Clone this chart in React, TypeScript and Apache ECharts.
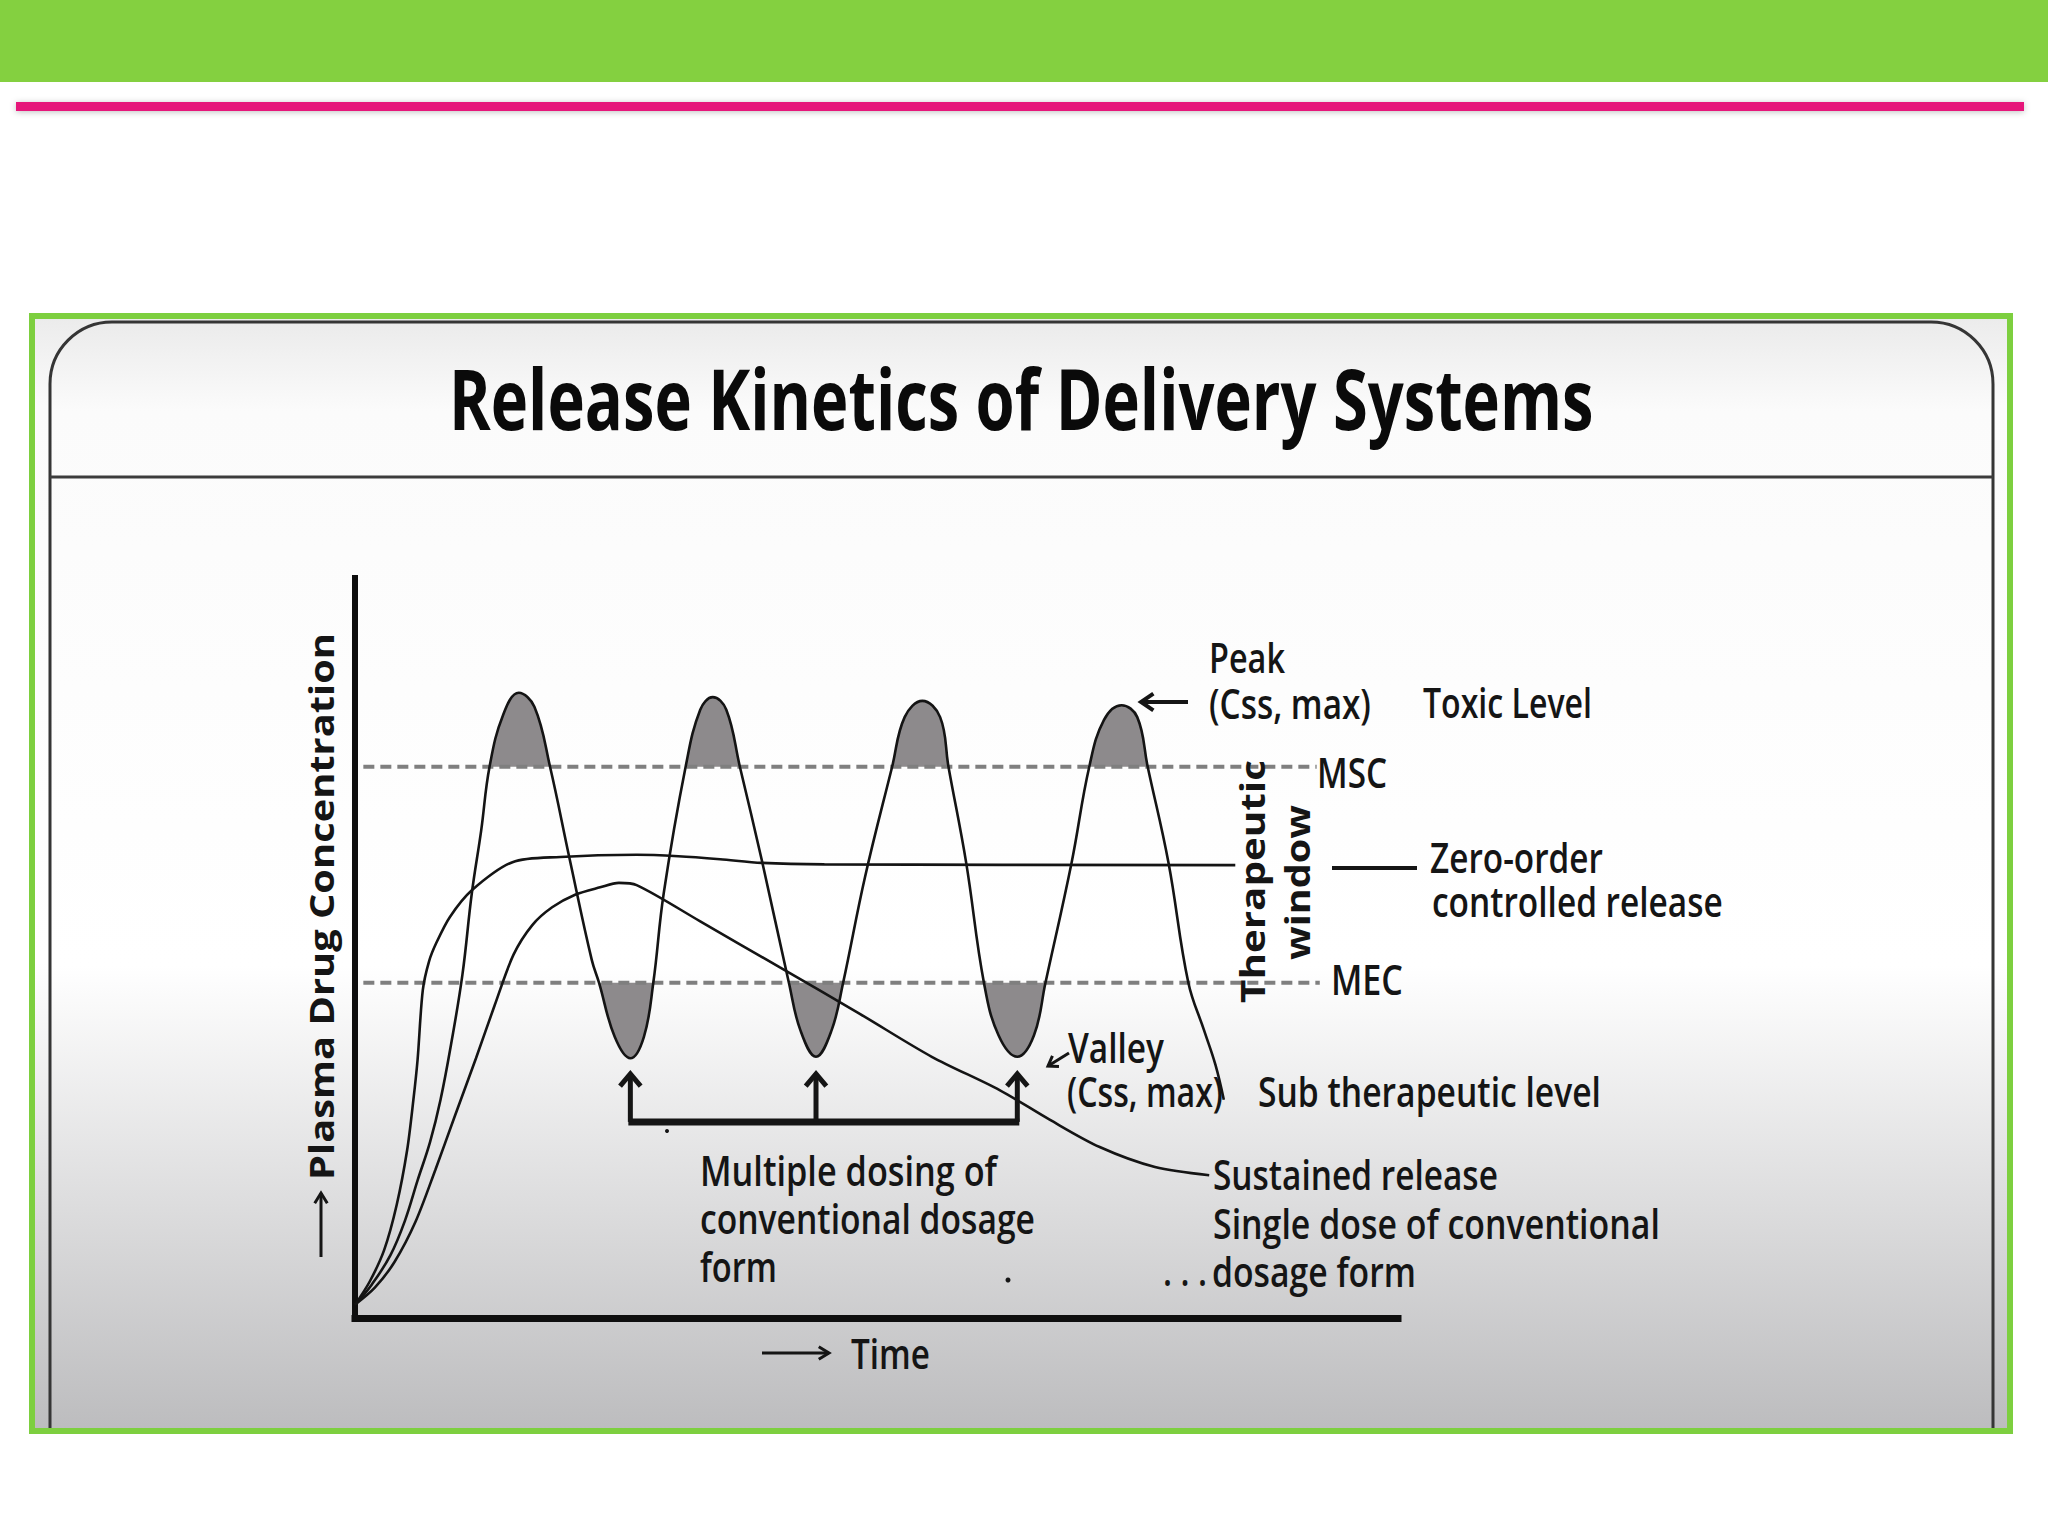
import React, { useEffect, useRef } from 'react';
import * as echarts from 'echarts';

// ---------- data (x: time units 0-100, y: concentration units 0-100) ----------
const MSC = 74.5;
const MEC = 45.3;

const zeroOrder: number[][] = [
  [0, 1.8], [1.4, 4.9], [2.8, 9.2], [4.0, 15.3], [5.0, 22.7], [5.6, 29.5], [6.0, 34.9],
  [6.5, 44.3], [7.1, 48.2], [7.8, 50.7], [9.1, 54.2], [11.2, 57.8], [15.1, 61.6],
  [19.7, 62.3], [27.0, 62.6], [31.0, 62.4], [35.0, 62.0], [39.0, 61.5], [45.0, 61.3], [84.4, 61.2],
];

const multipleDosing: number[][] = [
  [0, 1.8], [1.6, 4.5], [3.4, 8.5], [4.8, 13.2], [6.0, 18.6], [7.2, 23.8], [8.2, 29.5],
  [9.2, 36.9], [10.3, 46.4], [11.2, 57.4], [12.1, 65.9], [12.9, 74.5], [14.2, 81.5],
  [15.7, 84.5], [17.2, 82.6], [18.7, 74.5], [20.6, 61.9], [22.7, 48.4], [23.4, 45.3],
  [24.9, 38.0], [26.4, 35.1], [27.7, 38.0], [28.6, 45.3], [29.6, 57.4], [31.7, 74.5],
  [33.1, 82.2], [34.3, 83.9], [35.6, 82.2], [36.9, 74.5], [39.0, 61.9], [41.6, 45.3],
  [42.7, 38.9], [44.2, 35.3], [45.7, 38.9], [46.8, 45.3], [48.9, 59.6], [51.5, 74.5],
  [52.7, 81.2], [54.4, 83.4], [56.1, 81.2], [56.9, 74.5], [58.6, 61.5], [60.3, 45.3],
  [61.7, 38.2], [63.5, 35.3], [65.1, 38.2], [66.2, 45.3], [68.7, 61.5], [70.4, 74.5],
  [71.8, 80.8], [73.5, 82.8], [75.0, 81.2], [76.0, 74.5], [78.0, 61.5], [79.9, 45.3],
  [81.4, 38.9], [82.5, 34.2], [83.3, 29.5],
];

const singleDose: number[][] = [
  [0, 1.8], [1.9, 4.1], [3.8, 7.6], [5.8, 13.0], [7.7, 20.0], [9.6, 27.4], [11.6, 35.1],
  [13.4, 42.3], [15.2, 49.1], [17.0, 53.1], [18.9, 55.5], [21.1, 57.2], [23.5, 58.2],
  [25.3, 58.8], [27.0, 58.5], [33.1, 53.6], [40.7, 47.4], [48.4, 41.1], [55.3, 35.3],
  [61.8, 30.8], [66.6, 26.8], [71.4, 23.1], [76.7, 20.4], [81.9, 19.3],
];

const mscLine: number[][] = [[0.8, MSC], [92.2, MSC]];
const mecLine: number[][] = [[0.8, MEC], [92.5, MEC]];

const doseTimes: number[] = [26.4, 44.2, 63.5];
const DOSE_TIP = 33.0;
const DOSE_BAR = 26.5;

// ---------- texts ----------
const TITLE = 'Release Kinetics of Delivery Systems';
const Y_LABEL = 'Plasma Drug Concentration';
const X_LABEL = 'Time';
const PEAK_LABEL = ['Peak', '(Css, max)'];
const TOXIC_LABEL = 'Toxic Level';
const MSC_LABEL = 'MSC';
const MEC_LABEL = 'MEC';
const ZERO_LABEL = ['Zero-order', 'controlled release'];
const VALLEY_LABEL = ['Valley', '(Css, max)'];
const SUB_LABEL = 'Sub therapeutic level';
const SUSTAINED_LABEL = 'Sustained release';
const SINGLE_LABEL = ['Single dose of conventional', 'dosage form'];
const MULTI_LABEL = ['Multiple dosing of', 'conventional dosage', 'form'];
const WINDOW_LABEL = ['Therapeutic', 'window'];

const FONT = "'Open Sans', 'Liberation Sans', sans-serif";
const INK = '#151515';
const FILL_GRAY = '#8d8a8c';

// contiguous runs of the curve that lie beyond a level and start/end on it
function capsBeyond(data: number[][], level: number, above: boolean): number[][][] {
  const runs: number[][][] = [];
  let cur: number[][] = [];
  for (const p of data) {
    const ok = above ? p[1] >= level - 1e-9 : p[1] <= level + 1e-9;
    if (ok) cur.push(p);
    else {
      if (cur.length) runs.push(cur);
      cur = [];
    }
  }
  if (cur.length) runs.push(cur);
  return runs.filter(
    (r) => r.length >= 3 && Math.abs(r[0][1] - level) < 1e-9 && Math.abs(r[r.length - 1][1] - level) < 1e-9
  );
}

let measureCtx: CanvasRenderingContext2D | null = null;
function measure(text: string, size: number, weight: number): number {
  if (!measureCtx) measureCtx = document.createElement('canvas').getContext('2d');
  measureCtx!.font = `${weight} ${size}px ${FONT}`;
  return measureCtx!.measureText(text).width;
}

function fitText(text: string, left: number, right: number, cy: number, size = 41, weight = 600): any {
  const w = measure(text, size, weight);
  return {
    type: 'text', x: left, y: cy, scaleX: (right - left) / w, z: 30, silent: true,
    style: { text, x: 0, y: 0, font: `${weight} ${size}px ${FONT}`, fill: INK, align: 'left', verticalAlign: 'middle' },
  };
}

function vText(text: string, cx: number, top: number, bottom: number, size: number, weight = 700): any {
  const w = measure(text, size, weight);
  return {
    type: 'text', x: cx, y: (top + bottom) / 2, rotation: Math.PI / 2, scaleX: (bottom - top) / w, z: 30, silent: true,
    style: { text, x: 0, y: 0, font: `${weight} ${size}px ${FONT}`, fill: INK, align: 'center', verticalAlign: 'middle' },
  };
}

function arrow(x1: number, y1: number, x2: number, y2: number, width: number, head: number, spread = 0.6): any[] {
  const ang = Math.atan2(y2 - y1, x2 - x1);
  const a1 = ang + Math.PI - spread;
  const a2 = ang + Math.PI + spread;
  return [
    { type: 'line', z: 25, silent: true, shape: { x1, y1, x2, y2 }, style: { stroke: INK, lineWidth: width } },
    {
      type: 'polyline', z: 25, silent: true,
      shape: { points: [[x2 + head * Math.cos(a1), y2 + head * Math.sin(a1)], [x2, y2], [x2 + head * Math.cos(a2), y2 + head * Math.sin(a2)]] },
      style: { stroke: INK, lineWidth: width, fill: 'none', lineJoin: 'miter' },
    },
  ];
}

const curveStyle = { color: '#141414', width: 2.6 };

export default function App() {
  const ref = useRef<HTMLDivElement>(null);

  useEffect(() => {
    if (!ref.current) return;
    const chart = echarts.init(ref.current, null, { renderer: 'svg' });

    const fillSeries: any[] = [];
    capsBeyond(multipleDosing, MSC, true).forEach((run, i) => {
      fillSeries.push({
        name: 'Peak fill ' + i, type: 'line', data: run, smooth: 0.4, symbol: 'none', silent: true, z: 1,
        lineStyle: { width: 0, opacity: 0 }, areaStyle: { origin: MSC, color: FILL_GRAY, opacity: 1 },
      });
    });
    capsBeyond(multipleDosing, MEC, false).forEach((run, i) => {
      fillSeries.push({
        name: 'Valley fill ' + i, type: 'line', data: run, smooth: 0.4, symbol: 'none', silent: true, z: 1,
        lineStyle: { width: 0, opacity: 0 }, areaStyle: { origin: MEC, color: FILL_GRAY, opacity: 1 },
      });
    });

    const option: any = {
      animation: false,
      backgroundColor: '#ffffff',
      grid: { left: 355, top: 578, width: 1043, height: 740, show: false },
      xAxis: {
        type: 'value', min: 0, max: 100,
        axisLine: { show: true, onZero: false, lineStyle: { color: '#0e0e0e', width: 7, cap: 'square' } },
        axisTick: { show: false }, axisLabel: { show: false }, splitLine: { show: false },
      },
      yAxis: {
        type: 'value', min: 0, max: 100,
        axisLine: { show: true, onZero: false, lineStyle: { color: '#0e0e0e', width: 6, cap: 'square' } },
        axisTick: { show: false }, axisLabel: { show: false }, splitLine: { show: false },
      },
      series: [
        { name: 'Zero-order', type: 'line', data: zeroOrder, smooth: 0.3, symbol: 'none', silent: true, z: 5, lineStyle: curveStyle },
        { name: 'Multiple dosing', type: 'line', data: multipleDosing, smooth: 0.4, symbol: 'none', silent: true, z: 5, lineStyle: curveStyle },
        { name: 'Single dose', type: 'line', data: singleDose, smooth: 0.3, symbol: 'none', silent: true, z: 5, lineStyle: curveStyle },
        {
          name: 'MSC', type: 'line', data: mscLine, symbol: 'none', silent: true, z: 3,
          lineStyle: { color: '#7f7f7f', width: 4, type: [11, 6] },
        },
        {
          name: 'MEC', type: 'line', data: mecLine, symbol: 'none', silent: true, z: 3,
          lineStyle: { color: '#7f7f7f', width: 4, type: [11, 6] },
        },
        ...fillSeries,
      ],
    };
    chart.setOption(option);

    const px = (x: number, y: number): number[] => chart.convertToPixel({ gridIndex: 0 }, [x, y]) as number[];

    const bgGradient = new echarts.graphic.LinearGradient(0, 0, 0, 1, [
      { offset: 0, color: '#ebebeb' },
      { offset: 0.08, color: '#fbfbfb' },
      { offset: 0.58, color: '#ffffff' },
      { offset: 1, color: '#bcbcbe' },
    ]);

    const elements: any[] = [
      { type: 'rect', z: -10, silent: true, shape: { x: 0, y: 0, width: 2048, height: 82 }, style: { fill: '#84d040' } },
      {
        type: 'rect', z: -10, silent: true, shape: { x: 16, y: 102, width: 2008, height: 9 },
        style: { fill: '#e6197a', shadowBlur: 6, shadowColor: 'rgba(0,0,0,0.25)', shadowOffsetY: 1 },
      },
      { type: 'rect', z: -10, silent: true, shape: { x: 32, y: 316, width: 1978, height: 1115 }, style: { fill: bgGradient } },
      {
        type: 'rect', z: -9, silent: true, shape: { x: 50, y: 322, width: 1943, height: 1110, r: [62, 62, 0, 0] },
        style: { fill: bgGradient, stroke: '#353535', lineWidth: 3 },
      },
      { type: 'line', z: -8, silent: true, shape: { x1: 50, y1: 477, x2: 1993, y2: 477 }, style: { stroke: '#3c3c3c', lineWidth: 3 } },
      {
        type: 'rect', z: 50, silent: true, shape: { x: 32, y: 316, width: 1978, height: 1115 },
        style: { fill: 'none', stroke: '#7dcf3f', lineWidth: 6 },
      },
    ];

    const title = fitText(TITLE, 449, 1594, 398, 84, 700);
    title.style.fill = '#0a0a0a';
    elements.push(title);

    elements.push(vText(Y_LABEL, 321, 633, 1180, 34, 700));
    elements.push(...arrow(321, 1257, 321, 1193, 3, 12, 0.55));
    elements.push(fitText(X_LABEL, 851, 930, 1353, 42, 600));
    elements.push(...arrow(762, 1353, 829, 1353, 3, 12, 0.55));

    elements.push(fitText(PEAK_LABEL[0], 1209, 1285, 657, 42));
    elements.push(fitText(PEAK_LABEL[1], 1209, 1371, 702, 42));
    elements.push(...arrow(1188, 702, 1141, 702, 4, 15, 0.6));
    elements.push(fitText(TOXIC_LABEL, 1423, 1592, 702, 42));

    elements.push(fitText(MSC_LABEL, 1317, 1387, 772, 42));
    elements.push(fitText(MEC_LABEL, 1331, 1403, 979, 42));
    elements.push(vText(WINDOW_LABEL[0], 1252, 760, 1003, 34, 700));
    elements.push(vText(WINDOW_LABEL[1], 1297, 805, 960, 34, 700));

    elements.push({ type: 'line', z: 25, silent: true, shape: { x1: 1332, y1: 868, x2: 1417, y2: 868 }, style: { stroke: INK, lineWidth: 4 } });
    elements.push(fitText(ZERO_LABEL[0], 1430, 1603, 856, 42));
    elements.push(fitText(ZERO_LABEL[1], 1432, 1723, 900, 42));

    elements.push(fitText(VALLEY_LABEL[0], 1068, 1164, 1046, 42));
    elements.push(fitText(VALLEY_LABEL[1], 1067, 1223, 1091, 42));
    elements.push(...arrow(1069, 1053, 1048, 1066, 3, 11, 0.6));
    elements.push(fitText(SUB_LABEL, 1258, 1601, 1090, 42));

    elements.push(fitText(SUSTAINED_LABEL, 1213, 1498, 1173, 42));
    elements.push(fitText(SINGLE_LABEL[0], 1213, 1660, 1222, 42));
    elements.push(fitText('. . .', 1163, 1207, 1270, 42));
    elements.push(fitText(SINGLE_LABEL[1], 1212, 1416, 1270, 42));

    elements.push(fitText(MULTI_LABEL[0], 700, 997, 1170, 42));
    elements.push(fitText(MULTI_LABEL[1], 700, 1035, 1217, 42));
    elements.push(fitText(MULTI_LABEL[2], 700, 777, 1266, 42));

    const barY = px(0, DOSE_BAR)[1];
    const tipY = px(0, DOSE_TIP)[1];
    const xs = doseTimes.map((t) => px(t, 0)[0]);
    elements.push({
      type: 'line', z: 25, silent: true,
      shape: { x1: xs[0] - 2, y1: barY, x2: xs[xs.length - 1] + 2, y2: barY },
      style: { stroke: INK, lineWidth: 7 },
    });
    xs.forEach((x) => {
      elements.push(...arrow(x, barY, x, tipY, 5, 16, 0.7));
    });

    elements.push({ type: 'circle', z: 25, silent: true, shape: { cx: 1008, cy: 1280, r: 2.5 }, style: { fill: INK } });
    elements.push({ type: 'circle', z: 25, silent: true, shape: { cx: 667, cy: 1131, r: 2 }, style: { fill: INK } });

    chart.setOption({ graphic: { elements } });

    return () => chart.dispose();
  }, []);

  return <div ref={ref} style={{ position: 'absolute', left: 0, top: 0, width: 2048, height: 1536 }} />;
}
